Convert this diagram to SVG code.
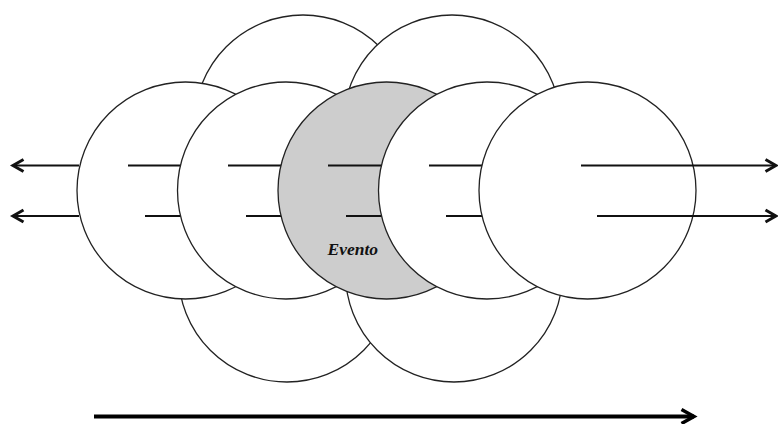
<svg xmlns="http://www.w3.org/2000/svg" width="778" height="424" viewBox="0 0 778 424">
  <style>
    .c { fill: #ffffff; stroke: #222222; stroke-width: 1.3; }
    .g { fill: #cdcdcd; stroke: #222222; stroke-width: 1.3; }
    .s { stroke: #111111; stroke-width: 2; fill: none; }
    .a { stroke: #111111; stroke-width: 2; fill: none; marker-end: url(#head); }
    .b { stroke: #000000; stroke-width: 4; fill: none; marker-end: url(#headBig); }
    .t { font-family: "Liberation Serif", "Times New Roman", serif; font-weight: bold; font-style: italic; font-size: 17.5px; fill: #111111; }
  </style>
  <defs>
    <marker id="head" markerUnits="userSpaceOnUse" markerWidth="16" markerHeight="16" refX="12" refY="7" orient="auto" overflow="visible">
      <path d="M1.5,1 L12,7 L1.5,13" fill="none" stroke="#111111" stroke-width="3" stroke-linejoin="miter"/>
    </marker>
    <marker id="headBig" markerUnits="userSpaceOnUse" markerWidth="20" markerHeight="20" refX="14" refY="8" orient="auto" overflow="visible">
      <path d="M1.5,1 L14,8 L1.5,15" fill="none" stroke="#000000" stroke-width="3.5" stroke-linejoin="miter"/>
    </marker>
  </defs>

  <g id="back-top-1"><circle class="c" cx="303" cy="123.5" r="108.5"/></g>
  <g id="back-top-2"><circle class="c" cx="452" cy="123.5" r="108.5"/></g>
  <g id="back-bottom-1"><circle class="c" cx="287" cy="273.5" r="108.5"/></g>
  <g id="back-bottom-2"><circle class="c" cx="454" cy="273.5" r="108.5"/></g>

  <g id="front-1">
    <circle class="c" cx="185.5" cy="190.5" r="108.5"/>
    <line class="s" x1="128" y1="165.5" x2="200" y2="165.5"/>
    <line class="s" x1="145" y1="216" x2="200" y2="216"/>
  </g>
  <g id="front-2">
    <circle class="c" cx="286" cy="190.5" r="108.5"/>
    <line class="s" x1="228" y1="165.5" x2="300" y2="165.5"/>
    <line class="s" x1="246" y1="216" x2="300" y2="216"/>
  </g>
  <g id="front-3-evento">
    <circle class="g" cx="386.5" cy="190.5" r="108.5"/>
    <line class="s" x1="328" y1="165.5" x2="400" y2="165.5"/>
    <line class="s" x1="346" y1="216" x2="400" y2="216"/>
    <text class="t" x="327.5" y="255">Evento</text>
  </g>
  <g id="front-4">
    <circle class="c" cx="487" cy="190.5" r="108.5"/>
    <line class="s" x1="429" y1="165.5" x2="500" y2="165.5"/>
    <line class="s" x1="446" y1="216" x2="500" y2="216"/>
  </g>
  <g id="front-5">
    <circle class="c" cx="587.5" cy="190.5" r="108.5"/>
  </g>

  <g id="connectors">
    <line class="a" x1="79" y1="165.5" x2="13" y2="165.5"/>
    <line class="a" x1="79" y1="216" x2="13" y2="216"/>
    <line class="a" x1="581" y1="165.5" x2="776" y2="165.5"/>
    <line class="a" x1="597" y1="216" x2="776" y2="216"/>
    <line class="b" x1="94" y1="416.5" x2="694" y2="416.5"/>
  </g>
</svg>
